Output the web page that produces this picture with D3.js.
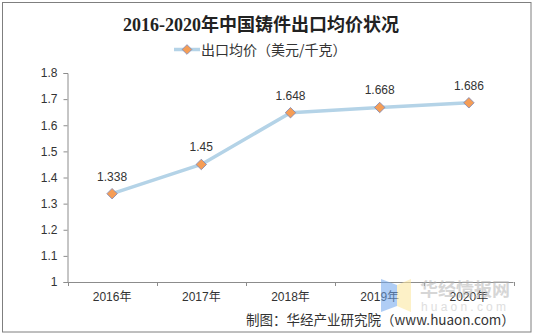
<!DOCTYPE html>
<html>
<head>
<meta charset="utf-8">
<script src="https://cdn.jsdelivr.net/npm/d3@7/dist/d3.min.js"></script>
<style>
  html, body { margin: 0; padding: 0; background: #fff; }
  svg { display: block; }
</style>
</head>
<body>
<svg id="chart" width="535" height="336"></svg>
<script>
// Export unit price of Chinese castings, 2016–2020 (USD per kg)
const years = ["2016年", "2017年", "2018年", "2019年", "2020年"];
const prices = [1.338, 1.45, 1.648, 1.668, 1.686];
const yTicks = [1, 1.1, 1.2, 1.3, 1.4, 1.5, 1.6, 1.7, 1.8];

const titleText = "2016-2020年中国铸件出口均价状况";
const legendText = "出口均价（美元/千克）";
const sourceText = "制图：华经产业研究院（www.huaon.com）";

const svg = d3.select("#chart");
const plot = { left: 67.5, right: 513.5, top: 73, bottom: 282 };

const lineColor = "#b4d3e7";
const markerFill = "#f59d56";
const markerStroke = "#7a86b8";
const textColor = "#333333";
const sansFont = "'Liberation Sans', Arial, 'Noto Sans CJK SC', sans-serif";

// outer frame
svg.append("rect")
  .attr("x", 2.5).attr("y", 2.5)
  .attr("width", 528.5).attr("height", 329.5)
  .attr("fill", "#fff")
  .attr("stroke", "#7f7f7f").attr("stroke-width", 1);

const x = d3.scaleBand().domain(years).range([plot.left, plot.right]);
const y = d3.scaleLinear().domain([1, 1.8]).range([plot.bottom, plot.top]);

// title
svg.append("text")
  .attr("x", 261).attr("y", 31)
  .attr("text-anchor", "middle")
  .attr("font-family", "'Liberation Serif', 'Noto Sans CJK SC', serif")
  .attr("font-weight", "bold")
  .attr("font-size", 18)
  .attr("fill", "#222")
  .text(titleText);

// legend
const lg = svg.append("g");
lg.append("line")
  .attr("x1", 174).attr("x2", 200).attr("y1", 49.5).attr("y2", 49.5)
  .attr("stroke", lineColor).attr("stroke-width", 3.5);
lg.append("path")
  .attr("d", d3.symbol(d3.symbolDiamond2, 60)())
  .attr("transform", "translate(187,49.5)")
  .attr("fill", markerFill).attr("stroke", markerStroke).attr("stroke-width", 0.8);
lg.append("text")
  .attr("x", 201).attr("y", 54.5)
  .attr("font-family", "'Noto Sans CJK SC', sans-serif")
  .attr("font-size", 14)
  .attr("fill", textColor)
  .text(legendText);

// y axis
const yAxis = svg.append("g")
  .attr("transform", `translate(${plot.left},0)`)
  .call(d3.axisLeft(y).tickValues(yTicks).tickSize(4).tickPadding(6)
    .tickFormat(d => d3.format("")(+d.toFixed(1))));
yAxis.select(".domain").attr("stroke", "#8c8c8c");
yAxis.selectAll(".tick line").attr("stroke", "#8c8c8c");
yAxis.selectAll("text")
  .attr("font-family", sansFont).attr("font-size", 12).attr("fill", textColor);

// x axis with ticks at category boundaries
const xAxis = svg.append("g")
  .attr("transform", `translate(0,${plot.bottom})`)
  .call(d3.axisBottom(x).tickSize(0).tickPadding(10));
xAxis.select(".domain").attr("stroke", "#8c8c8c").attr("d", `M${plot.left},0.5H${plot.right}`);
xAxis.selectAll("text")
  .attr("font-family", sansFont).attr("font-size", 12).attr("fill", textColor);
const bounds = years.map(d => x(d)).concat([x(years[years.length - 1]) + x.bandwidth()]);
xAxis.selectAll(".bound").data(bounds).enter().append("line")
  .attr("x1", d => Math.round(d) + 0.5).attr("x2", d => Math.round(d) + 0.5)
  .attr("y1", 0).attr("y2", 4)
  .attr("stroke", "#8c8c8c");

// series
const pts = years.map((yr, i) => ({ yr, v: prices[i] }));
const cx = d => x(d.yr) + x.bandwidth() / 2;

svg.append("path")
  .datum(pts)
  .attr("fill", "none")
  .attr("stroke", lineColor)
  .attr("stroke-width", 3.5)
  .attr("stroke-linejoin", "round")
  .attr("d", d3.line().x(cx).y(d => y(d.v)));

svg.selectAll(".marker").data(pts).enter().append("path")
  .attr("d", d3.symbol(d3.symbolDiamond2, 70)())
  .attr("transform", d => `translate(${cx(d)},${y(d.v)})`)
  .attr("fill", markerFill).attr("stroke", markerStroke).attr("stroke-width", 0.8);

svg.selectAll(".vlabel").data(pts).enter().append("text")
  .attr("x", cx).attr("y", d => y(d.v) - 13)
  .attr("text-anchor", "middle")
  .attr("font-family", sansFont).attr("font-size", 12)
  .attr("fill", textColor)
  .text(d => d.v);

// watermark logo and site name
const wm = svg.append("g").attr("opacity", 0.55);
wm.append("polygon")
  .attr("points", "381,279 397,285 397,306 381,312")
  .attr("fill", "#6fa6ee");
wm.append("polygon")
  .attr("points", "397,285 411,279 411,312 397,306")
  .attr("fill", "#fde69a");
wm.append("text")
  .attr("x", 420).attr("y", 296)
  .attr("font-family", "'Noto Sans CJK SC', sans-serif")
  .attr("font-weight", "bold").attr("font-size", 18)
  .attr("fill", "#b5b5b5")
  .text("华经情报网");
wm.append("text")
  .attr("x", 421).attr("y", 311)
  .attr("font-family", sansFont).attr("font-size", 12)
  .attr("letter-spacing", 3.2)
  .attr("fill", "#c4c4c4")
  .text("huaon.com");

// source note
svg.append("text")
  .attr("x", 246).attr("y", 325)
  .attr("font-family", "'Noto Sans CJK SC', sans-serif")
  .attr("font-size", 13.5)
  .attr("fill", textColor)
  .text(sourceText);
</script>
</body>
</html>
